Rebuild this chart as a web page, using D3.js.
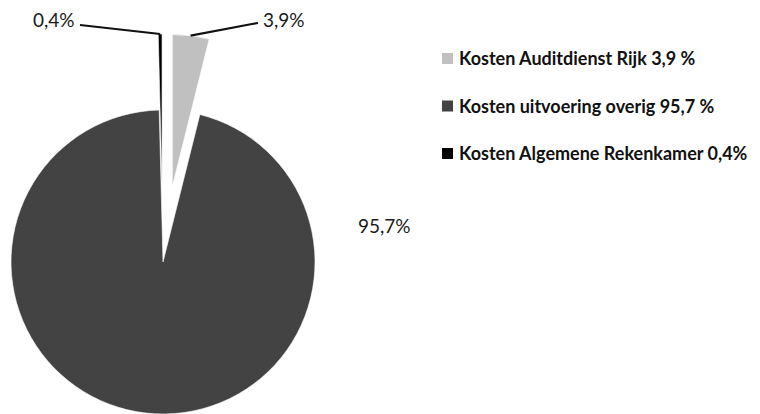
<!DOCTYPE html>
<html><head><meta charset="utf-8">
<script src="https://cdn.jsdelivr.net/npm/d3@7"></script>
<style>html,body{margin:0;padding:0;background:#fff;}svg{display:block;}</style>
</head><body>
<svg id="chart" width="760" height="414"></svg>
<script>
const categories = ["Kosten Auditdienst Rijk", "Kosten uitvoering overig", "Kosten Algemene Rekenkamer"];
const values = [3.9, 95.7, 0.4];
const valueLabels = ["3,9%", "95,7%", "0,4%"];
const legendLabels = ["Kosten Auditdienst Rijk 3,9 %", "Kosten uitvoering overig 95,7 %", "Kosten Algemene Rekenkamer 0,4%"];
const explode = [0.5, 0, 0.5];
const colors = ["#c0c0c0", "#434343", "#000000"];

const svg = d3.select("#chart");
const cx = 163, cy = 262, R = 152;
const font = "Lato, 'Open Sans', sans-serif";

const pie = d3.pie().sort(null).value(d => d);
const arcs = pie(values);
const arc = d3.arc().innerRadius(0).outerRadius(R);
const outerPt = d3.arc().innerRadius(R - 2).outerRadius(R - 2);

const g = svg.append("g").attr("transform", `translate(${cx},${cy})`);

function offset(d, i) {
  const mid = (d.startAngle + d.endAngle) / 2;
  const dist = explode[i] * R;
  return [Math.sin(mid) * dist, -Math.cos(mid) * dist];
}

g.selectAll("path.slice").data(arcs).join("path")
  .attr("class", "slice")
  .attr("d", arc)
  .attr("fill", (d, i) => colors[i])
  .attr("stroke", "#fff").attr("stroke-width", 0.6)
  .attr("transform", (d, i) => { const o = offset(d, i); return `translate(${o[0]},${o[1]})`; });

// data labels (positions relative to pie centre)
const labelPos = [
  { x: 100, y: -235, anchor: "start", lead: [[95, -239], [89, -238]] },
  { x: 195, y: -29, anchor: "start", lead: null },
  { x: -130, y: -235, anchor: "start", lead: [[-83, -237]] }
];

arcs.forEach((d, i) => {
  const lp = labelPos[i];
  g.append("text")
    .attr("x", lp.x).attr("y", lp.y)
    .attr("text-anchor", lp.anchor)
    .attr("font-family", font).attr("font-size", 19)
    .attr("fill", "#1a1a1a")
    .text(valueLabels[i]);
  if (lp.lead) {
    const o = offset(d, i);
    const c = outerPt.centroid(d);
    const pts = lp.lead.concat([[c[0] + o[0], c[1] + o[1] - 2]]);
    g.append("path")
      .attr("d", d3.line()(pts))
      .attr("fill", "none").attr("stroke", "#111").attr("stroke-width", 2.2);
  }
});

// legend
const legend = svg.append("g").attr("transform", "translate(442,0)");
const rowY = d3.scalePoint().domain(d3.range(legendLabels.length)).range([65, 160]);
legendLabels.forEach((t, i) => {
  const y = rowY(i);
  legend.append("rect").attr("x", 0).attr("y", y - 12).attr("width", 11).attr("height", 11)
    .attr("fill", colors[i]);
  legend.append("text").attr("x", 17).attr("y", y)
    .attr("font-family", font).attr("font-size", 18).attr("font-weight", 700)
    .attr("fill", "#111").text(t);
});
</script>
</body></html>
